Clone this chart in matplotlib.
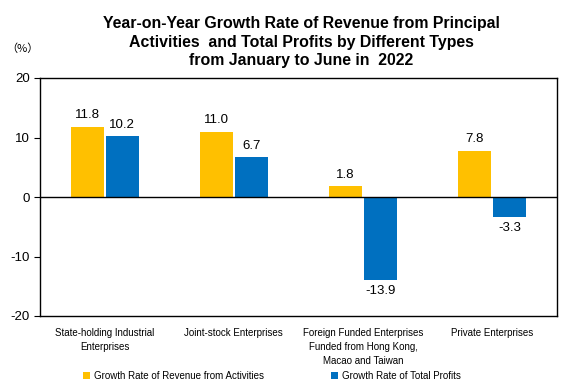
import numpy as np
import matplotlib.pyplot as plt

plt.rcParams['font.family'] = ['Liberation Sans', 'DejaVu Sans']
plt.rcParams['axes.unicode_minus'] = False

# data
categories = ['State-holding Industrial\nEnterprises', 'Joint-stock Enterprises',
              'Foreign Funded Enterprises\nFunded from Hong Kong,\nMacao and Taiwan',
              'Private Enterprises']
revenue = [11.8, 11.0, 1.8, 7.8]
profits = [10.2, 6.7, -13.9, -3.3]
series_names = ['Growth Rate of Revenue from Activities', 'Growth Rate of Total Profits']

fig = plt.figure(figsize=(5.77, 3.9), dpi=100)
ax = fig.add_axes([40 / 577, 1 - 316 / 390, 517 / 577, 238 / 390])

x = np.arange(len(categories))
w = 0.256
b1 = ax.bar(x - 0.135, revenue, w, color='#FFC000', label=series_names[0])
b2 = ax.bar(x + 0.135, profits, w, color='#0070C0', label=series_names[1])

for bars, vals in ((b1, revenue), (b2, profits)):
    for r, v in zip(bars, vals):
        xc = r.get_x() + r.get_width() / 2
        if v >= 0:
            ax.text(xc, v + 0.9, f'{v:.1f}', ha='center', va='bottom', fontsize=9.5)
        else:
            ax.text(xc, v - 0.9, f'{v:.1f}', ha='center', va='top', fontsize=9.5)

ax.axhline(0, color='black', linewidth=1)
ax.set_xlim(-0.5, 3.5)
ax.set_ylim(-20, 20)
ax.set_yticks([-20, -10, 0, 10, 20])
ax.set_xticks(x)
ax.set_xticklabels(categories, fontsize=7, linespacing=1.45)
ax.tick_params(axis='x', length=0, pad=9)
ax.tick_params(axis='y', direction='out', length=4, labelsize=9.5)
for s in ax.spines.values():
    s.set_linewidth(1)

fig.text(22 / 577, 1 - 49 / 390, '（%）', fontsize=8, ha='center', va='center',
         family=['Noto Sans CJK SC', 'DejaVu Sans'])
fig.text(301 / 577, 1 - 42 / 390,
         'Year-on-Year Growth Rate of Revenue from Principal\n'
         'Activities  and Total Profits by Different Types\n'
         'from January to June in  2022',
         ha='center', va='center', fontsize=11.4, fontweight='bold', linespacing=1.3)

ax.legend(loc='center', bbox_to_anchor=(272 / 577, 1 - 376 / 390), bbox_transform=fig.transFigure,
          ncol=2, frameon=False, handlelength=0.7, handleheight=0.7, columnspacing=6.9,
          handletextpad=0.4, fontsize=7)

fig.savefig('out.png', dpi=100)
